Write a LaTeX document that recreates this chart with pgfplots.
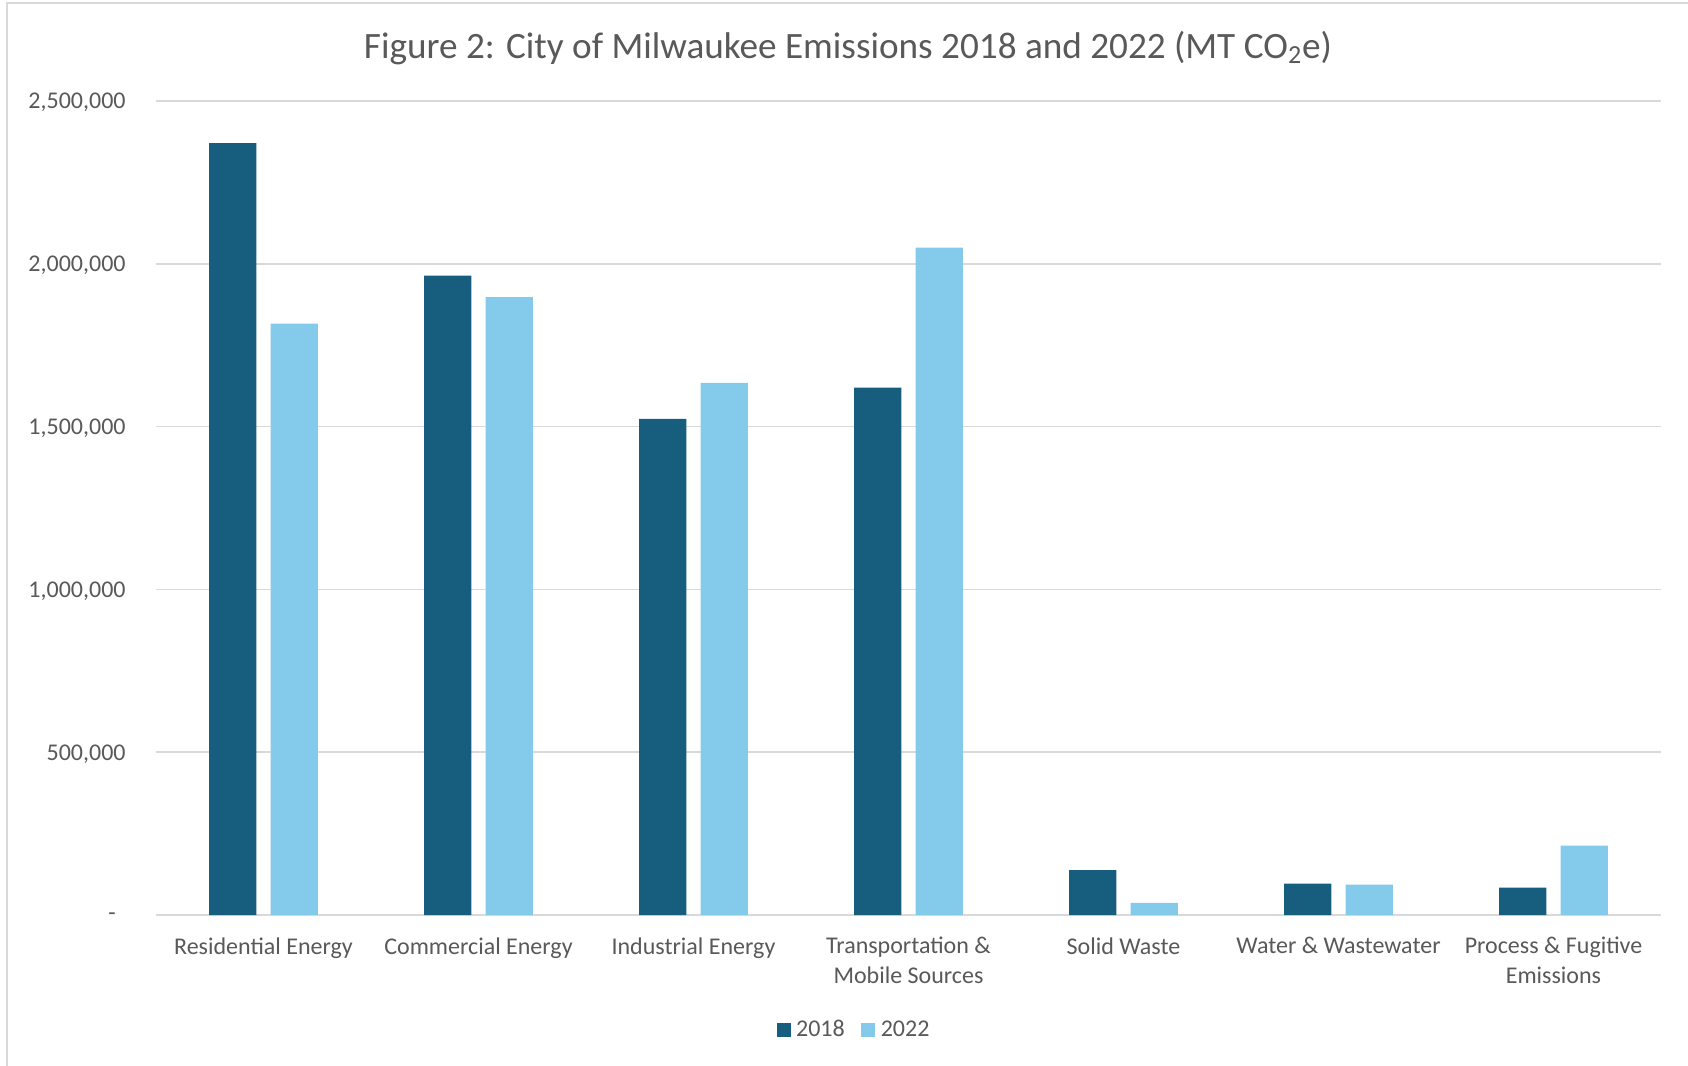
\documentclass[border=0pt]{standalone}
\usepackage{fontspec}
\setmainfont{Carlito}
\usepackage{pgfplots}
\pgfplotsset{compat=1.18}
\definecolor{c18}{HTML}{175E7E}
\definecolor{c22}{HTML}{84CBEB}
\definecolor{gridc}{HTML}{D9D9D9}
\definecolor{txt}{HTML}{595959}
\begin{document}
\begin{tikzpicture}
\useasboundingbox (-78pt,-75.5pt) rectangle (766pt,457.5pt);
\fill[white] (-78pt,-75.5pt) rectangle (766pt,457.5pt);
\draw[gridc, line width=0.9pt] (-74.5pt,-75.5pt) -- (-74.5pt,456pt) -- (766pt,456pt);
\begin{axis}[
  at={(0pt,0pt)}, anchor=south west,
  scale only axis, width=752.5pt, height=407pt,
  xmin=-0.5, xmax=6.5, ymin=0, ymax=2500000,
  axis line style={draw=none},
  major tick length=0pt,
  ymajorgrids, grid style={gridc, line width=0.8pt},
  xtick={0,1,2,3,4,5,6},
  xticklabels={Residential Energy, Commercial Energy, Industrial Energy, {Transportation \&\\Mobile Sources}, Solid Waste, Water \& Wastewater, {Process \& Fugitive\\Emissions}},
  ytick={0,500000,1000000,1500000,2000000,2500000},
  yticklabels={{-\rule{5pt}{0pt}},{500,000},{1,000,000},{1,500,000},{2,000,000},{2,500,000}},
  scaled y ticks=false,
  /pgf/number format/assume math mode=true,
  tick label style={font=\fontsize{12}{14.6}\selectfont, text=txt},
  yticklabel style={inner sep=0pt, xshift=-15pt, yshift=-0.8pt},
  xticklabel style={align=center, inner sep=0pt, anchor=north, yshift=-11pt},
  title={Figure 2: City of Milwaukee Emissions 2018 and 2022 (MT CO\textsubscript{2}e)},
  title style={at={(axis description cs:0.4598,1.0504)}, anchor=center, font=\fontsize{18.6}{22}\selectfont, text=txt, inner sep=0pt},
  legend style={at={(axis description cs:0.4639,-0.1413)}, anchor=center, draw=none, fill=none,
    font=\fontsize{12}{14}\selectfont, text=txt, legend columns=2,
    /tikz/every even column/.append style={column sep=7pt},
    nodes={inner sep=1.2pt}},
  legend image code/.code={\fill[#1] (0pt,-3.5pt) rectangle (7pt,3.5pt); \path (8.6pt,0pt);},
]
\addplot[ybar, fill=c18, draw=none, bar width=0.22, bar shift=-0.143] coordinates {
(0,2371000) (1,1964000) (2,1524000) (3,1620000) (4,138000) (5,96000) (6,84000)};
\addplot[ybar, fill=c22, draw=none, bar width=0.22, bar shift=0.143] coordinates {
(0,1816000) (1,1898000) (2,1634000) (3,2050000) (4,37000) (5,93000) (6,213000)};
\legend{2018,2022}
\end{axis}
\end{tikzpicture}
\end{document}
